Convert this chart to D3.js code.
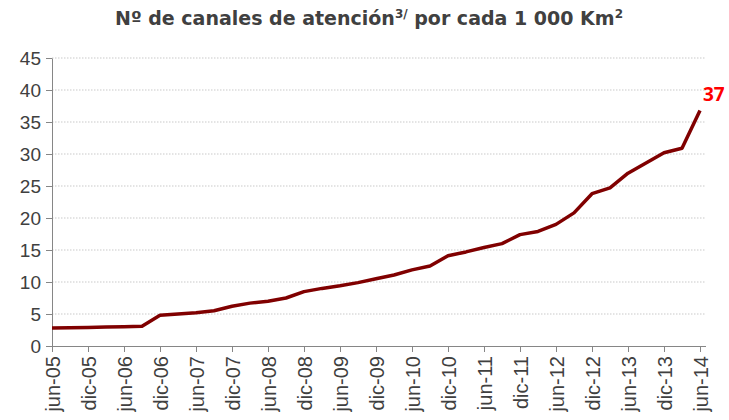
<!DOCTYPE html>
<html>
<head>
<meta charset="utf-8">
<script src="https://cdn.jsdelivr.net/npm/d3@7"></script>
<style>
  body { margin: 0; background: #fff; }
  svg { display: block; font-family: "Open Sans", sans-serif; }
  .axis path, .axis line { stroke: #868686; }
  .axis text { fill: #404040; font-size: 19px; }
  .axis--x text { font-size: 20px; }
  .grid line { stroke: #c9c9c9; stroke-dasharray: 1.5 1.5; }
</style>
</head>
<body>
<svg width="729" height="420"></svg>
<script>
// quarterly periods, jun-05 .. jun-14
var quarters = ["jun-05","sep-05","dic-05","mar-06","jun-06","sep-06","dic-06","mar-07","jun-07","sep-07",
  "dic-07","mar-08","jun-08","sep-08","dic-08","mar-09","jun-09","sep-09","dic-09","mar-10",
  "jun-10","sep-10","dic-10","mar-11","jun-11","sep-11","dic-11","mar-12","jun-12","sep-12",
  "dic-12","mar-13","jun-13","sep-13","dic-13","mar-14","jun-14"];
var canales = [2.8,2.85,2.9,2.95,3.0,3.1,4.8,5.0,5.2,5.5,
  6.2,6.7,7.0,7.5,8.5,9.0,9.4,9.9,10.5,11.1,
  11.9,12.5,14.1,14.7,15.4,16.0,17.4,17.9,19.0,20.8,
  23.8,24.7,27.0,28.6,30.2,30.9,36.8];
var yTicks = [0,5,10,15,20,25,30,35,40,45];
var lastLabel = "37";

var svg = d3.select("svg"),
    margin = {top: 58, right: 29, bottom: 74, left: 52},
    width = 729 - margin.left - margin.right,
    height = 420 - margin.top - margin.bottom;

var x = d3.scalePoint().domain(quarters).range([0, 648]);
var y = d3.scaleLinear().domain([0, 45]).range([height, 0]);

var g = svg.append("g")
    .attr("transform", "translate(" + margin.left + "," + margin.top + ")");

// gridlines
g.append("g")
    .attr("class", "grid")
    .selectAll("line")
    .data(yTicks.filter(function(d) { return d > 0; }))
    .enter().append("line")
    .attr("x1", 0)
    .attr("x2", 654)
    .attr("y1", function(d) { return y(d); })
    .attr("y2", function(d) { return y(d); });

// y axis
g.append("g")
    .attr("class", "axis axis--y")
    .call(d3.axisLeft(y).tickValues(yTicks).tickSize(6).tickSizeOuter(0).tickPadding(5))
    .selectAll("text").attr("dy", "0.34em");

// x axis: ticks every half year
var xAxis = d3.axisBottom(x)
    .tickValues(quarters.filter(function(d, i) { return i % 2 == 0; }))
    .tickSize(6)
    .tickSizeOuter(0);

g.append("g")
    .attr("class", "axis axis--x")
    .attr("transform", "translate(0," + height + ")")
    .call(xAxis)
    .call(function(s) { s.select(".domain").attr("d", "M0,0.5H654"); })
    .selectAll("text")
    .attr("transform", "rotate(-90)")
    .attr("x", -10)
    .attr("y", 0)
    .attr("dy", "0.36em")
    .style("text-anchor", "end");

// line
var line = d3.line()
    .x(function(d, i) { return x(quarters[i]); })
    .y(function(d) { return y(d); });

g.append("path")
    .datum(canales)
    .attr("fill", "none")
    .attr("stroke", "#800000")
    .attr("stroke-width", 3.5)
    .attr("stroke-linejoin", "round")
    .attr("d", line);

g.append("text")
    .attr("x", x(quarters[quarters.length - 1]) + 3)
    .attr("y", y(canales[canales.length - 1]) - 9)
    .attr("fill", "#ff0000")
    .style("font-size", "19px")
    .style("font-weight", "bold")
    .text(lastLabel);

// title
var title = svg.append("text")
    .attr("x", 369)
    .attr("y", 25)
    .attr("text-anchor", "middle")
    .attr("fill", "#404040")
    .style("font-family", "'DejaVu Sans', sans-serif")
    .style("font-size", "19px")
    .style("font-weight", "bold");
title.append("tspan").text("Nº de canales de atención");
title.append("tspan").attr("dy", -7).style("font-size", "12px").text("3/");
title.append("tspan").attr("dy", 7).text(" por cada 1 000 Km");
title.append("tspan").attr("dy", -7).style("font-size", "12px").text("2");
</script>
</body>
</html>
